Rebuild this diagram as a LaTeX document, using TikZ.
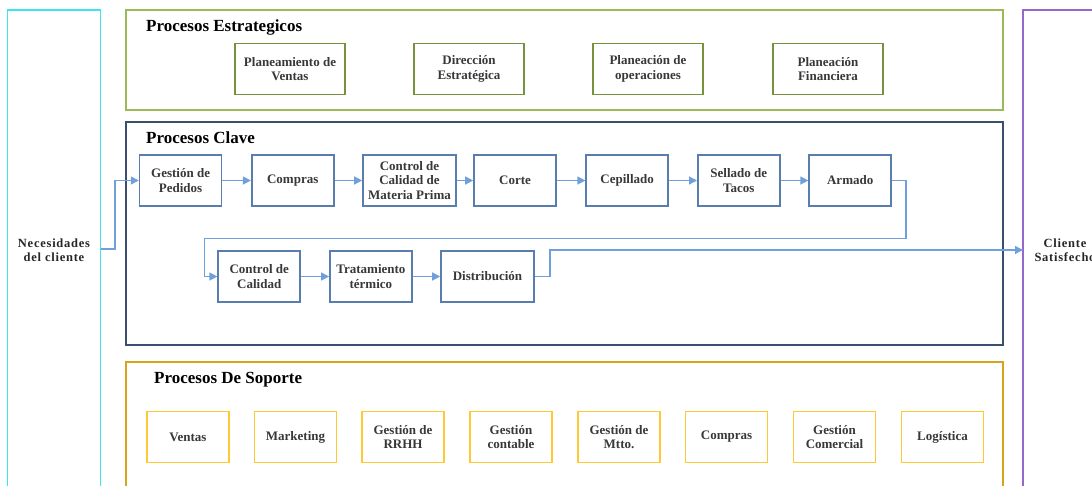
\documentclass[tikz,border=0pt]{standalone}
\usepackage{fontspec}
\setmainfont{Liberation Serif}
\newfontfamily\spacedbold[LetterSpace=6]{Liberation Serif}
\usetikzlibrary{arrows.meta,positioning}
\definecolor{cyanframe}{HTML}{3DE3EE}
\definecolor{greenframe}{HTML}{9BBB59}
\definecolor{greenbox}{HTML}{76923C}
\definecolor{navyframe}{HTML}{3B4E6E}
\definecolor{bluebox}{HTML}{5A7DB0}
\definecolor{arrowblue}{HTML}{6FA0DC}
\definecolor{goldframe}{HTML}{D6A51C}
\definecolor{yellowbox}{HTML}{FFC933}
\definecolor{purpleframe}{HTML}{9966CC}
\tikzset{
  frame/.style={draw, line width=1.5pt},
  boxtext/.style={font=\fontsize{13}{14.7}\selectfont\bfseries, align=center, text=black!78},
  stratbox/.style={draw=greenbox, line width=1.6pt, minimum width=110pt, minimum height=51pt, inner sep=0pt, boxtext},
  keybox/.style={draw=bluebox, line width=1.6pt, minimum width=82pt, minimum height=51pt, inner sep=0pt, boxtext},
  widekeybox/.style={keybox, minimum width=93pt},
  supbox/.style={draw=yellowbox, line width=1.6pt, minimum width=82pt, minimum height=51pt, inner sep=0pt, boxtext},
  title/.style={font=\fontsize{17}{20}\selectfont\bfseries, anchor=west, inner sep=0pt},
  sidetext/.style={font=\fontsize{12.5}{13.5}\selectfont\spacedbold\bfseries, align=center, text=black!85},
  flow/.style={draw=arrowblue, line width=1.3pt, -{Triangle[length=8pt,width=8pt]}},
}
\begin{document}
\begin{tikzpicture}[x=1pt, y=-1pt]
\useasboundingbox (0,0) rectangle (1092,485);
% frames
\draw[frame, cyanframe] (7.5,10) rectangle (100.5,500);
\draw[frame, greenframe] (126,10) rectangle (1003,110);
\draw[frame, navyframe] (126,122) rectangle (1003,345);
\draw[frame, goldframe] (126,362) rectangle (1003,500);
\draw[frame, purpleframe] (1023,10) rectangle (1125,500);
% titles
\node[title] (tE) at (146,27) {Procesos Estrategicos};
\node[title] (tC) at (146,138) {Procesos Clave};
\node[title] (tS) at (154,380) {Procesos De Soporte};
% side texts
\node[sidetext] (nec) at (54,250) {Necesidades\\del cliente};
\node[sidetext] (cli) at (1065,250) {Cliente\\Satisfecho};
% strategic
\node[stratbox] (s1) at (290,69) {Planeamiento de\\Ventas};
\node[stratbox] (s2) at (469,69) {Dirección\\Estratégica};
\node[stratbox] (s3) at (648,69) {Planeación de\\operaciones};
\node[stratbox] (s4) at (828,69) {Planeación\\Financiera};
% key row 1
\node[keybox] (k1) at (180.6,180.5) {Gestión de\\Pedidos};
\node[keybox] (k2) at (292.7,180.5) {Compras};
\node[widekeybox] (k3) at (409.5,180.5) {Control de\\Calidad de\\Materia Prima};
\node[keybox] (k4) at (515,180.5) {Corte};
\node[keybox] (k5) at (627.2,180.5) {Cepillado};
\node[keybox] (k6) at (738.8,180.5) {Sellado de\\Tacos};
\node[keybox] (k7) at (850.2,180.5) {Armado};
% key row 2
\node[keybox] (k8) at (259.2,276.5) {Control de\\Calidad};
\node[keybox] (k9) at (370.9,276.5) {Tratamiento\\térmico};
\node[widekeybox] (k10) at (487.5,276.5) {Distribución};
% support
\node[supbox] (p1) at (188,437) {Ventas};
\node[supbox] (p2) at (295.5,437) {Marketing};
\node[supbox] (p3) at (403,437) {Gestión de\\RRHH};
\node[supbox] (p4) at (511,437) {Gestión\\contable};
\node[supbox] (p5) at (619,437) {Gestión de\\Mtto.};
\node[supbox] (p6) at (726.5,437) {Compras};
\node[supbox] (p7) at (834.5,437) {Gestión\\Comercial};
\node[supbox] (p8) at (942.5,437) {Logística};
% connector points
\coordinate (necout) at (100.5,249);
\coordinate (cliin) at (1023,250);
% connectors
\draw[flow] (necout) -- (115,249) |- (k1.west);
\draw[flow] (k1) -- (k2);
\draw[flow] (k2) -- (k3);
\draw[flow] (k3) -- (k4);
\draw[flow] (k4) -- (k5);
\draw[flow] (k5) -- (k6);
\draw[flow] (k6) -- (k7);
\draw[flow] (k7.east) -- (906,180.5) -- (906,238.5) -- (204.5,238.5) |- (k8.west);
\draw[flow] (k8) -- (k9);
\draw[flow] (k9) -- (k10);
\draw[flow] (k10.east) -- (550,276.5) -- (550,250) -- (cliin);
\end{tikzpicture}
\end{document}
